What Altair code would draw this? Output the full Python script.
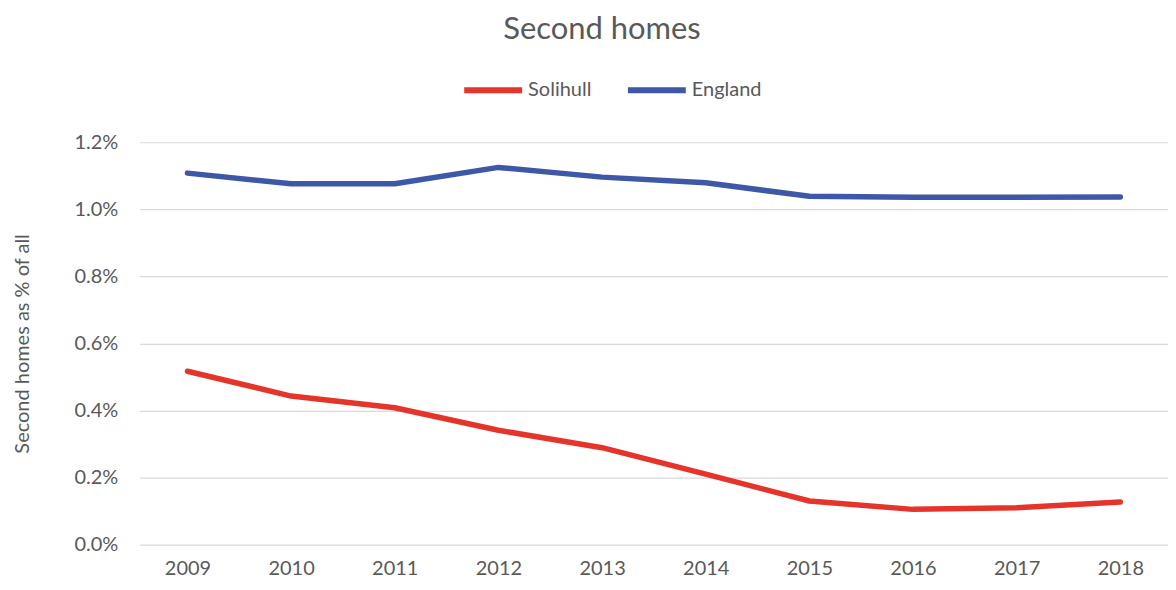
import altair as alt
import pandas as pd

years = [2009, 2010, 2011, 2012, 2013, 2014, 2015, 2016, 2017, 2018]
solihull = [0.517, 0.443, 0.408, 0.341, 0.289, 0.210, 0.130, 0.105, 0.110, 0.127]
england = [1.108, 1.076, 1.076, 1.125, 1.096, 1.079, 1.039, 1.036, 1.036, 1.037]
series = ["Solihull", "England"]
colors = ["#E5352B", "#3F57A7"]
y_ticks = [0.0, 0.2, 0.4, 0.6, 0.8, 1.0, 1.2]

rows = []
for yr, v in zip(years, solihull):
    rows.append({"Year": str(yr), "Area": "Solihull", "Value": v / 100})
for yr, v in zip(years, england):
    rows.append({"Year": str(yr), "Area": "England", "Value": v / 100})
df = pd.DataFrame(rows)

FONT = "Lato"
GREY = "#595959"

chart = alt.Chart(df).mark_line(strokeWidth=5.5, strokeCap="round", strokeJoin="round").encode(
    x=alt.X("Year:O", title=None,
            scale=alt.Scale(type="point", padding=0.46),
            axis=alt.Axis(labelAngle=0, domain=False, ticks=False, labelPadding=14,
                          labelFont=FONT, labelFontSize=20, labelColor=GREY, grid=False)),
    y=alt.Y("Value:Q", title="Second homes as % of all",
            scale=alt.Scale(domain=[0, 0.012], nice=False, zero=True),
            axis=alt.Axis(format=".1%", values=[t / 100 for t in y_ticks], domain=False, ticks=False,
                          labelPadding=22, labelFont=FONT, labelFontSize=20, labelColor=GREY,
                          titleFont=FONT, titleFontSize=20, titleColor=GREY, titleFontWeight="normal",
                          titlePadding=42, gridColor="#D9D9D9", gridWidth=1.2)),
    color=alt.Color("Area:N", scale=alt.Scale(domain=series, range=colors),
                    legend=alt.Legend(title=None, orient="none", direction="horizontal",
                                      legendX=322, legendY=-84,
                                      symbolType="stroke", symbolSize=3364, symbolStrokeWidth=6,
                                      labelFont=FONT, labelFontSize=20, labelColor=GREY,
                                      labelOffset=3, columnPadding=24)),
).properties(
    width=1030,
    height=403,
    title=alt.TitleParams("Second homes", font=FONT, fontSize=31, color=GREY, fontWeight="normal",
                          anchor="middle", dx=-52, offset=12),
    autosize=alt.AutoSizeParams(type="none"),
    padding={"left": 132, "top": 134, "right": 0, "bottom": 36},
).configure_view(stroke=None)

chart.save("out.html", embed_options={"renderer": "svg", "actions": False})
